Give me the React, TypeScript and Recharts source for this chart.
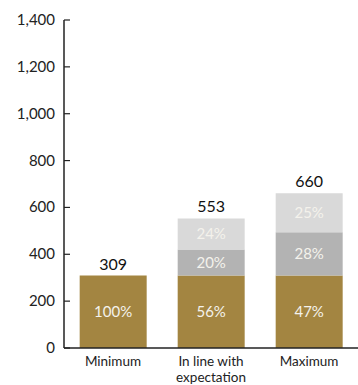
import { BarChart, Bar, XAxis, YAxis, LabelList } from 'recharts'

const categories = ['Minimum', 'In line with\nexpectation', 'Maximum']
const baseValues = [309, 309, 309]
const midValues = [0, 111, 185]
const topValues = [0, 133, 166]
const totals = ['309', '553', '660']
const basePct = ['100%', '56%', '47%']
const midPct = ['', '20%', '28%']
const topPct = ['', '24%', '25%']
const yTicks = [0, 200, 400, 600, 800, 1000, 1200, 1400]

const FONT = 'Lato, "Open Sans", sans-serif'
const GOLD = '#a38541'
const MID = '#b3b3b3'
const LIGHT = '#d9d9d9'

// total label sits on whichever segment is the top of the stack
const data = categories.map((c, i) => ({
  name: c,
  base: baseValues[i],
  mid: midValues[i],
  top: topValues[i],
  totalOnBase: midValues[i] + topValues[i] === 0 ? totals[i] : '',
  totalOnTop: topValues[i] > 0 ? totals[i] : '',
  basePct: basePct[i],
  midPct: midPct[i],
  topPct: topPct[i],
}))

const YTick = (props: any) => {
  const { x, y, payload } = props
  return (
    <g>
      <line x1={x} y1={y} x2={x + 6} y2={y} stroke="#222" strokeWidth={1.2} />
      <text x={x - 9} y={y} dy={5} textAnchor="end" fontSize={15} fill="#222" fontFamily={FONT}>
        {payload.value.toLocaleString('en-US')}
      </text>
    </g>
  )
}

const XTick = (props: any) => {
  const { x, y, payload } = props
  const lines = String(payload.value).split('\n')
  return (
    <g>
      {lines.map((l, i) => (
        <text key={i} x={x} y={y + 10 + i * 16} textAnchor="middle" fontSize={13.5} fill="#222" fontFamily={FONT}>
          {l}
        </text>
      ))}
    </g>
  )
}

const pctStyle = { fill: '#f4f2ec', fontSize: 15, fontFamily: FONT }
const totalStyle = { fill: '#111', fontSize: 16, fontFamily: FONT }

export default function App() {
  return (
    <div style={{ position: 'absolute', left: 0, top: 0, background: '#fff' }}>
      <BarChart
        width={358}
        height={385}
        data={data}
        margin={{ top: 20, right: 0, bottom: 2, left: 0 }}
        barCategoryGap="16%"
      >
        <XAxis
          dataKey="name"
          tick={<XTick />}
          tickLine={false}
          axisLine={{ stroke: '#222', strokeWidth: 1.5 }}
          height={35}
          interval={0}
        />
        <YAxis
          domain={[0, 1400]}
          ticks={yTicks}
          tick={<YTick />}
          tickLine={false}
          tickSize={0}
          tickMargin={0}
          axisLine={{ stroke: '#222', strokeWidth: 1.5 }}
          width={64}
          interval={0}
        />
        <Bar dataKey="base" stackId="a" fill={GOLD} isAnimationActive={false}>
          <LabelList dataKey="basePct" position="center" style={pctStyle} />
          <LabelList dataKey="totalOnBase" position="top" offset={6} style={totalStyle} />
        </Bar>
        <Bar dataKey="mid" stackId="a" fill={MID} isAnimationActive={false}>
          <LabelList dataKey="midPct" position="center" style={pctStyle} />
        </Bar>
        <Bar dataKey="top" stackId="a" fill={LIGHT} isAnimationActive={false}>
          <LabelList dataKey="topPct" position="center" style={pctStyle} />
          <LabelList dataKey="totalOnTop" position="top" offset={6} style={totalStyle} />
        </Bar>
      </BarChart>
    </div>
  )
}
